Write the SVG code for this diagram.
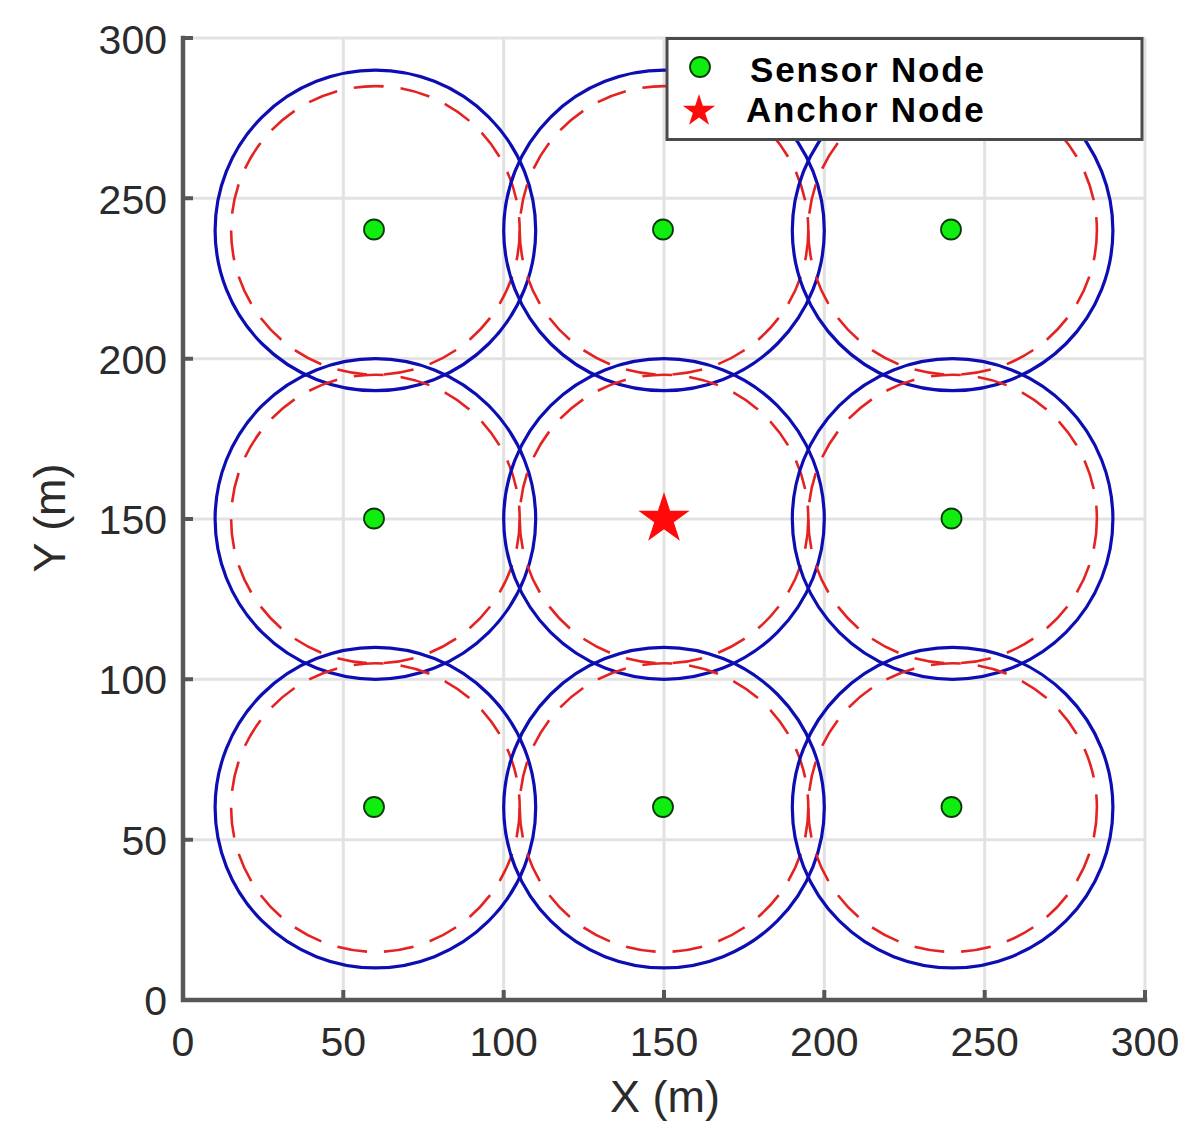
<svg xmlns="http://www.w3.org/2000/svg" width="1204" height="1143" viewBox="0 0 1204 1143">
<style>
.grid{stroke:#e2e2e2;stroke-width:3;fill:none}
.axis{stroke:#575757;stroke-width:4.5;fill:none;stroke-linecap:square}
.tick{stroke:#575757;stroke-width:4;fill:none}
.tl{font-family:"Liberation Sans",Arial,sans-serif;font-size:41px;fill:#2b2b2b}
.lab{font-family:"Liberation Sans",Arial,sans-serif;font-size:45px;fill:#2b2b2b}
.leg{font-family:"Liberation Sans",Arial,sans-serif;font-size:35px;font-weight:bold;fill:#000;letter-spacing:1.8px}
.range{stroke:#0d0db4;stroke-width:3.2;fill:none}
.est{stroke:#e52222;stroke-width:2.6;fill:none;stroke-dasharray:30 17}
.sensor{fill:#10ee10;stroke:#0a3a0a;stroke-width:1.8}
.star{fill:#ff0a0a}
</style>
<defs>
<polygon id="starShape" points="0,-1 0.2245,-0.309 0.951,-0.309 0.3633,0.118 0.588,0.809 0,0.382 -0.588,0.809 -0.3633,0.118 -0.951,-0.309 -0.2245,-0.309"/>
</defs>
<rect width="1204" height="1143" fill="#fff"/>
<g id="grid">
<path class="grid" d="M343.3 38V1000M503.7 38V1000M664 38V1000M824.3 38V1000M984.7 38V1000M1145 38V1000M183 38H1145M183 198.3H1145M183 358.7H1145M183 519H1145M183 679.3H1145M183 839.7H1145"/>
</g>
<g id="connectors"></g>
<g id="node-60-240"><circle class="range" cx="375.4" cy="230.4" r="160.3"/><circle class="est" cx="375.4" cy="230.4" r="144.3"/><circle class="sensor" cx="374" cy="229.5" r="10"/></g>
<g id="node-150-240"><circle class="range" cx="664" cy="230.4" r="160.3"/><circle class="est" cx="664" cy="230.4" r="144.3"/><circle class="sensor" cx="663" cy="229.5" r="10"/></g>
<g id="node-240-240"><circle class="range" cx="952.6" cy="230.4" r="160.3"/><circle class="est" cx="952.6" cy="230.4" r="144.3"/><circle class="sensor" cx="951" cy="229.5" r="10"/></g>
<g id="node-60-150"><circle class="range" cx="375.4" cy="519" r="160.3"/><circle class="est" cx="375.4" cy="519" r="144.3"/><circle class="sensor" cx="374" cy="518.5" r="10"/></g>
<g id="node-150-150"><circle class="range" cx="664" cy="519" r="160.3"/><circle class="est" cx="664" cy="519" r="144.3"/></g>
<g id="node-240-150"><circle class="range" cx="952.6" cy="519" r="160.3"/><circle class="est" cx="952.6" cy="519" r="144.3"/><circle class="sensor" cx="951.5" cy="518.5" r="10"/></g>
<g id="node-60-60"><circle class="range" cx="375.4" cy="807.6" r="160.3"/><circle class="est" cx="375.4" cy="807.6" r="144.3"/><circle class="sensor" cx="374" cy="807" r="10"/></g>
<g id="node-150-60"><circle class="range" cx="664" cy="807.6" r="160.3"/><circle class="est" cx="664" cy="807.6" r="144.3"/><circle class="sensor" cx="663" cy="807" r="10"/></g>
<g id="node-240-60"><circle class="range" cx="952.6" cy="807.6" r="160.3"/><circle class="est" cx="952.6" cy="807.6" r="144.3"/><circle class="sensor" cx="951.5" cy="807" r="10"/></g>
<g id="anchor"><use href="#starShape" class="star" transform="translate(664 519) scale(27)"/></g>
<g id="axes">
<path class="axis" d="M183 38V1000H1145"/>
<path class="tick" d="M183 38h10M183 198.3h10M183 358.7h10M183 519h10M183 679.3h10M183 839.7h10M343.3 1000v-10M503.7 1000v-10M664 1000v-10M824.3 1000v-10M984.7 1000v-10M1145 1000v-10"/>
<g class="tl" text-anchor="end">
<text x="167" y="54">300</text><text x="167" y="214">250</text><text x="167" y="374">200</text><text x="167" y="534">150</text><text x="167" y="694">100</text><text x="167" y="855">50</text><text x="167" y="1015">0</text>
</g>
<g class="tl" text-anchor="middle">
<text x="183" y="1056">0</text><text x="343.3" y="1056">50</text><text x="503.7" y="1056">100</text><text x="664" y="1056">150</text><text x="824.3" y="1056">200</text><text x="984.7" y="1056">250</text><text x="1145" y="1056">300</text>
</g>
<text class="lab" x="665" y="1112" text-anchor="middle">X (m)</text>
<text class="lab" transform="translate(65 518) rotate(-90)" text-anchor="middle">Y (m)</text>
</g>
<g id="legend">
<rect x="667" y="38.5" width="475" height="101" fill="#fff" stroke="#4a4a4a" stroke-width="3"/>
<circle class="sensor" cx="700" cy="67" r="10"/>
<use href="#starShape" class="star" transform="translate(699 111) scale(17)"/>
<text class="leg" x="750" y="82">Sensor Node</text>
<text class="leg" x="746" y="122">Anchor Node</text>
</g>
</svg>
